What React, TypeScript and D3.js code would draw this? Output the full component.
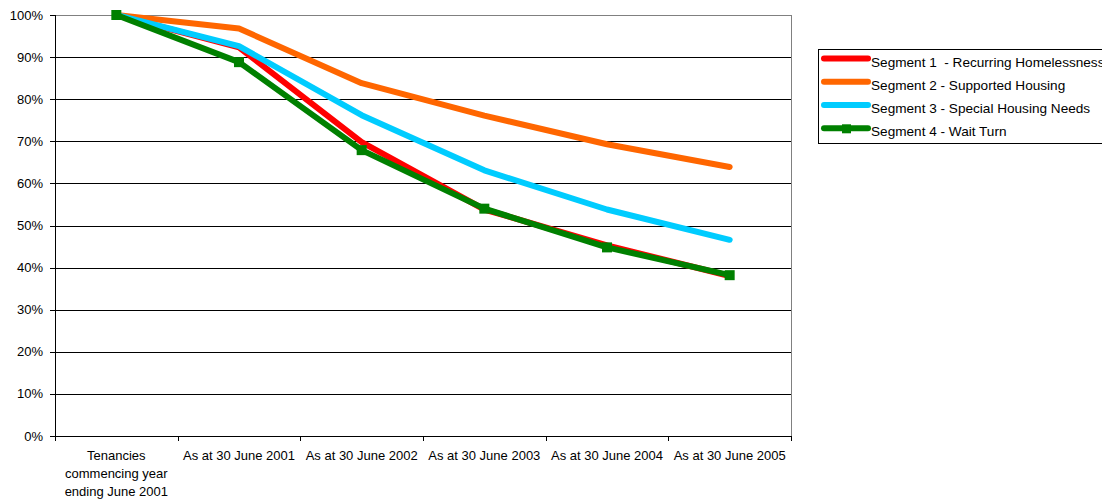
import React from "react";
import * as d3 from "d3";

const categories = [
  "Tenancies|commencing year|ending June 2001",
  "As at 30 June 2001",
  "As at 30 June 2002",
  "As at 30 June 2003",
  "As at 30 June 2004",
  "As at 30 June 2005",
];
const seriesNames = [
  "Segment 1  - Recurring Homelessness",
  "Segment 2 - Supported Housing",
  "Segment 3 - Special Housing Needs",
  "Segment 4 - Wait Turn",
];
const seg1 = [100, 92.3, 69.8, 53.8, 45.3, 38.0];
const seg2 = [100, 96.8, 83.8, 76.1, 69.3, 63.9];
const seg3 = [100, 92.6, 76.2, 63.1, 53.8, 46.6];
const seg4 = [100, 88.8, 67.9, 54.0, 44.8, 38.2];
const colors = ["#ff0000", "#ff6600", "#00ccff", "#008000"];
const yTicks = [0, 10, 20, 30, 40, 50, 60, 70, 80, 90, 100];

const W = 1102;
const H = 499;
const L = 55, R = 791, T = 15, B = 436;

export default function App() {
  const x = d3.scaleBand<string>().domain(categories).range([L, R]).padding(0);
  const y = d3.scaleLinear().domain([0, 100]).range([B, T]);
  const cx = (i: number) => (x(categories[i]) as number) + x.bandwidth() / 2;
  const line = d3
    .line<number>()
    .x((_, i) => cx(i))
    .y((d) => y(d));
  const all = [seg1, seg2, seg3, seg4];
  const font = "'Liberation Sans', Arial, sans-serif";
  const boundaries = categories.map((c) => x(c) as number).concat([R]);

  return (
    <svg
      width={W}
      height={H}
      style={{ position: "absolute", left: 0, top: 0, background: "#fff" }}
      fontFamily={font}
    >
      {yTicks.map((t) => (
        <line
          key={"g" + t}
          x1={L}
          x2={R}
          y1={Math.round(y(t)) + 0.5}
          y2={Math.round(y(t)) + 0.5}
          stroke={t === 100 ? "#808080" : "#000"}
          strokeWidth={1}
        />
      ))}
      <line x1={R + 0.5} x2={R + 0.5} y1={T} y2={B} stroke="#808080" strokeWidth={1} />
      <line x1={L + 0.5} x2={L + 0.5} y1={T} y2={B + 1} stroke="#000" strokeWidth={1} />
      <line x1={L} x2={R + 1} y1={B + 0.5} y2={B + 0.5} stroke="#000" strokeWidth={1} />
      {yTicks.map((t) => (
        <g key={"yt" + t}>
          <line x1={L - 5} x2={L} y1={Math.round(y(t)) + 0.5} y2={Math.round(y(t)) + 0.5} stroke="#000" />
          <text x={43} y={y(t) + 4.5} textAnchor="end" fontSize={13} fill="#000">
            {t + "%"}
          </text>
        </g>
      ))}
      {boundaries.map((b, i) => (
        <line key={"xt" + i} x1={Math.round(b) + 0.5} x2={Math.round(b) + 0.5} y1={B} y2={B + 5} stroke="#000" />
      ))}
      {categories.map((c, i) => (
        <text key={"xl" + i} textAnchor="middle" fontSize={13} fill="#000">
          {c.split("|").map((ln, j) => (
            <tspan key={j} x={cx(i)} y={459.5 + j * 18.3}>
              {ln}
            </tspan>
          ))}
        </text>
      ))}
      {all.map((s, k) => (
        <path
          key={"s" + k}
          d={line(s) as string}
          fill="none"
          stroke={colors[k]}
          strokeWidth={6}
          strokeLinejoin="round"
          strokeLinecap="round"
        />
      ))}
      {seg4.map((v, i) => (
        <rect key={"m" + i} x={cx(i) - 5} y={y(v) - 5} width={10} height={10} fill={colors[3]} />
      ))}
      <rect x={818.5} y={49.5} width={300} height={94} fill="#fff" stroke="#000" />
      {seriesNames.map((n, k) => {
        const ty = 61.7 + k * 23.3;
        const ly = ty - 3.3;
        return (
          <g key={"lg" + k}>
            <line x1={824} x2={868} y1={ly} y2={ly} stroke={colors[k]} strokeWidth={6} strokeLinecap="round" />
            {k === 3 && <rect x={842} y={ly - 4} width={9} height={9} fill={colors[3]} />}
            <text x={871} y={ty + 4.8} fontSize={13.6} fill="#000" style={{ whiteSpace: "pre" }}>
              {n}
            </text>
          </g>
        );
      })}
    </svg>
  );
}
